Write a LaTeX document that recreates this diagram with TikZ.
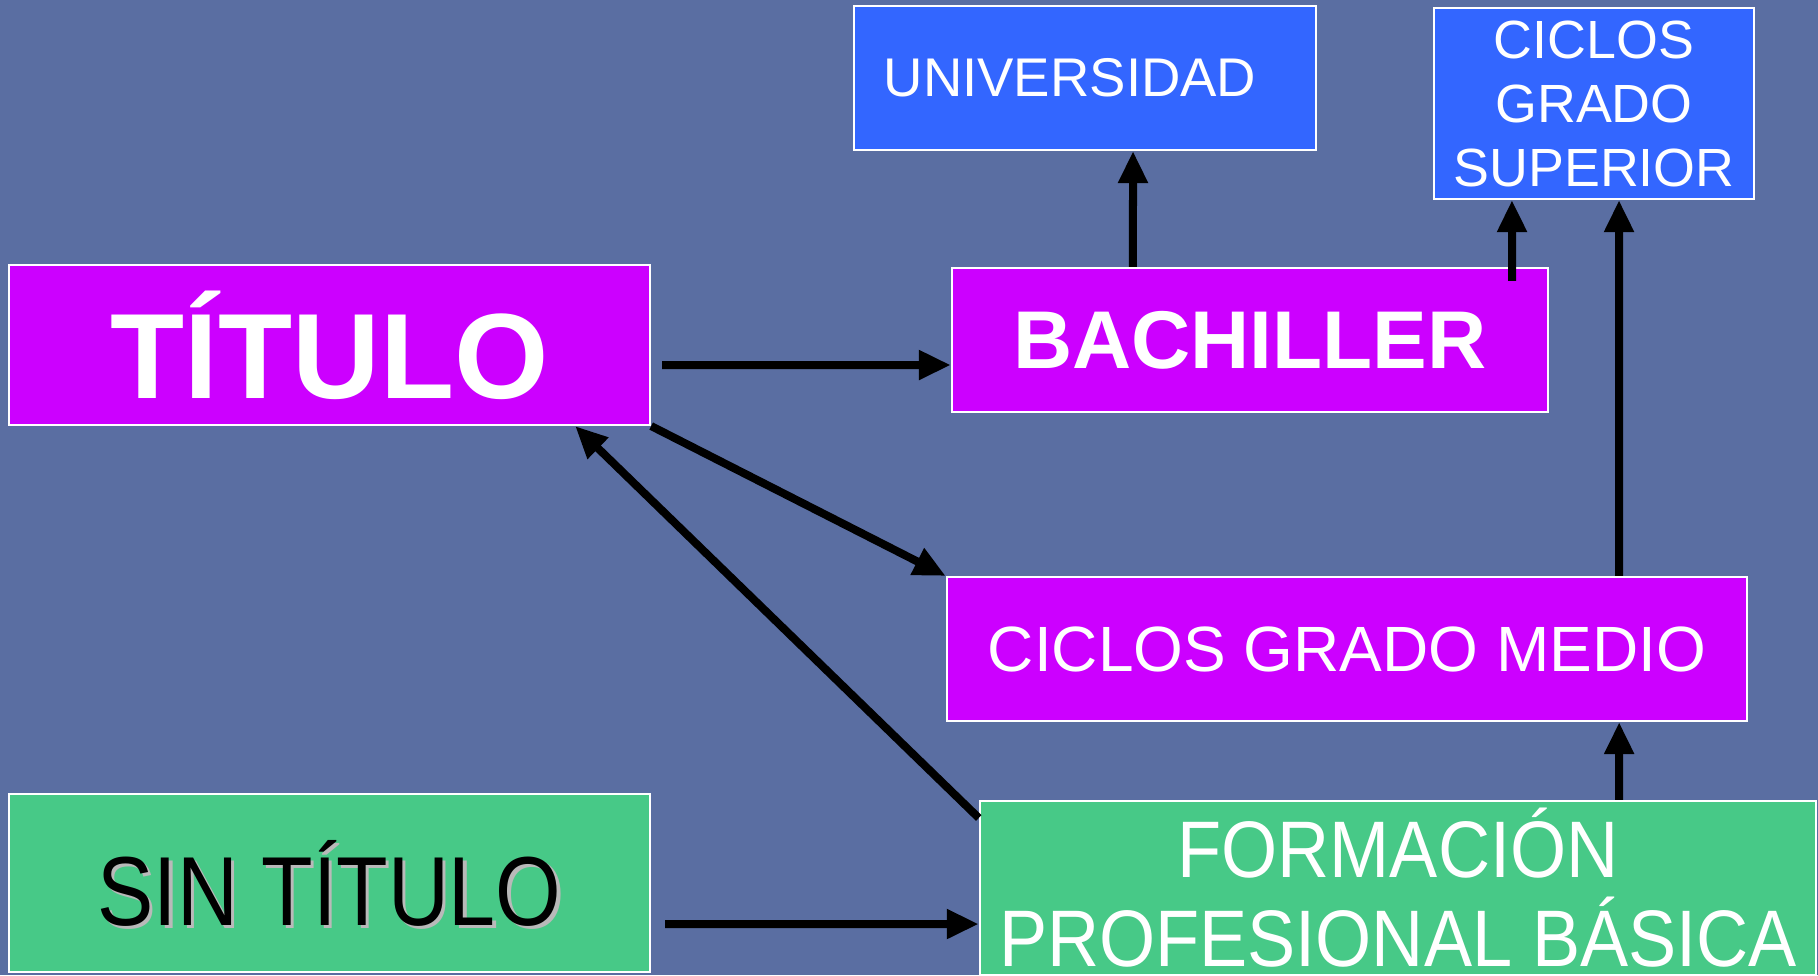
\documentclass[tikz,border=0pt]{standalone}
\usepackage{fontspec}
\setmainfont{Liberation Sans}
\usepackage{graphicx}
\usetikzlibrary{arrows.meta}
\definecolor{fondo}{RGB}{90,110,162}
\definecolor{morado}{RGB}{204,0,255}
\definecolor{azul}{RGB}{51,102,255}
\definecolor{verde}{RGB}{71,201,135}
\tikzset{
	caja/.style={draw=white, line width=0.02cm, text=white, align=center, inner sep=0pt},
	flecha/.style={line width=0.08cm, -{Triangle[length=0.32cm,width=0.28cm]}},
}

\begin{document}
\begin{tikzpicture}[x=0.01cm,y=-0.01cm]
	\clip (0,0) rectangle (1818,975);
	\fill[fondo] (0,0) rectangle (1818,975);
	
	\node[caja, fill=morado, minimum width=6.41cm, minimum height=1.6cm, font=\fontsize{34.5}{40}\selectfont\bfseries] (titulo) at (329.5,345) {TÍTULO};
	\node[caja, fill=morado, minimum width=5.96cm, minimum height=1.44cm, font=\fontsize{23.3}{28}\selectfont\bfseries] (bach) at (1250,340) {BACHILLER};
	\node[caja, fill=azul, minimum width=4.62cm, minimum height=1.44cm, font=\fontsize{15.5}{19}\selectfont] (univ) at (1085,78) {UNIVERSIDAD\hspace{0.3cm}};
	\node[caja, fill=azul, minimum width=3.2cm, minimum height=1.91cm, font=\fontsize{15.3}{18.2}\selectfont] (cgs) at (1594,103.5) {CICLOS\\GRADO\\SUPERIOR};
	\node[caja, fill=morado, minimum width=8cm, minimum height=1.44cm, font=\fontsize{18.2}{22}\selectfont] (cgm) at (1347,649) {CICLOS GRADO MEDIO};
	\node[caja, fill=verde, minimum width=6.41cm, minimum height=1.78cm] (sint) at (329.5,883) {};
	\node[text=gray!55, font=\fontsize{27.9}{33}\selectfont] at ([xshift=0.035cm,yshift=-0.035cm]sint.center) {\scalebox{0.86}[1]{SIN TÍTULO}};
	\node[text=black, font=\fontsize{27.9}{33}\selectfont] (sintxt) at (sint.center) {\scalebox{0.86}[1]{SIN TÍTULO}};
	\node[caja, fill=verde, minimum width=8.36cm, minimum height=1.74cm, font=\fontsize{22.8}{25.3}\selectfont] (fpb) at (1398,888) {\scalebox{0.9}[1]{FORMACIÓN}\\\scalebox{0.9}[1]{PROFESIONAL BÁSICA}};
	
	% flechas
	\draw[flecha] ([xshift=0.11cm,yshift=-0.2cm]titulo.east) -- ([yshift=-0.25cm]bach.west);
	\draw[flecha] (titulo.south east) -- (cgm.north west);
	\draw[flecha] ([yshift=-0.18cm]fpb.north west) -- ([xshift=-0.76cm]titulo.south east);
	\draw[flecha] ([xshift=0.14cm,yshift=-0.41cm]sint.east) -- ([yshift=-0.36cm]fpb.west);
	\draw[flecha] ([xshift=-1.17cm]bach.north) -- ([xshift=0.48cm]univ.south);
	\draw[flecha] ([xshift=2.62cm,yshift=-0.14cm]bach.north) -- ([xshift=-0.82cm]cgs.south);
	\draw[flecha] ([xshift=2.72cm]cgm.north) -- ([xshift=0.25cm]cgs.south);
	\draw[flecha] ([xshift=2.21cm]fpb.north) -- ([xshift=2.72cm]cgm.south);
\end{tikzpicture}
\end{document}
